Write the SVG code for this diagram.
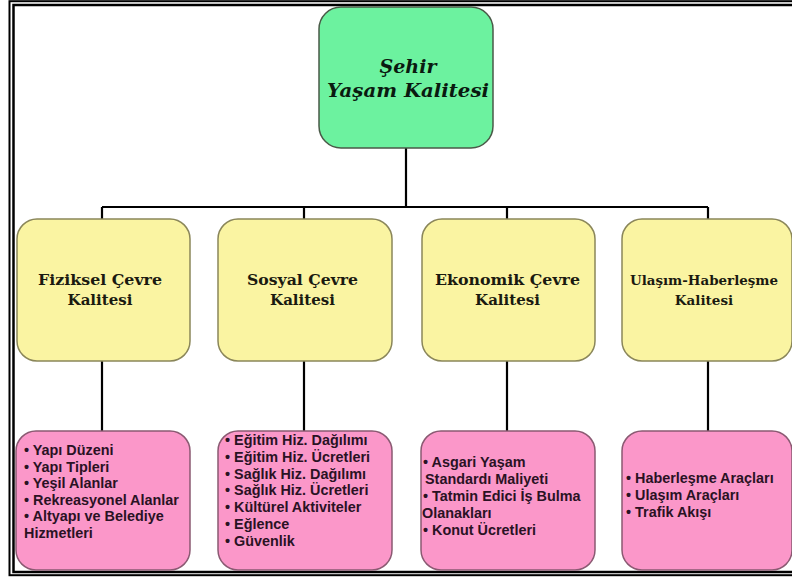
<svg xmlns="http://www.w3.org/2000/svg" width="792" height="578" viewBox="0 0 792 578">
<style>
.frame{fill:none;stroke:#000}
.top{fill:#6cf29f;stroke:#4a5a48;stroke-width:1.5}
.mid{fill:#faf4a2;stroke:#8a865a;stroke-width:1.5}
.low{fill:#fb97c9;stroke:#8a5a72;stroke-width:1.5}
.conn{stroke:#000;stroke-width:2.2;fill:none}
.ttl{font-family:"DejaVu Serif","Liberation Serif",serif;font-weight:bold;font-style:italic;font-size:19px;fill:#0a1a10;text-anchor:middle}
.hd{font-family:"DejaVu Serif","Liberation Serif",serif;font-weight:bold;font-size:15px;fill:#1a1a10;text-anchor:middle}
.it{font-family:"Liberation Sans",Arial,sans-serif;font-weight:bold;font-size:14.4px;fill:#2a1224}
</style>
<rect width="792" height="578" fill="#fff"/>
<rect class="frame" x="9.5" y="1.2" width="800" height="574" stroke-width="2"/>
<rect class="frame" x="13.5" y="5" width="800" height="567" stroke-width="2.5"/>
<g id="connectors">
<path class="conn" d="M406 148V207M102 207H708M102 207V219M304 207V219M507 207V219M708 207V219M102 361V431M304 361V431M507 361V431M708 361V431"/>
</g>
<g id="root">
<rect class="top" x="319" y="7" width="174" height="141" rx="22"/>
<text class="ttl" x="408" y="73">Şehir</text>
<text class="ttl" x="408" y="97" textLength="162" lengthAdjust="spacingAndGlyphs">Yaşam Kalitesi</text>
</g>
<g id="fiziksel">
<rect class="mid" x="17" y="219" width="173" height="142" rx="20"/>
<text class="hd" x="100" y="285" textLength="124" lengthAdjust="spacingAndGlyphs">Fiziksel Çevre</text>
<text class="hd" x="100" y="305">Kalitesi</text>
</g>
<g id="sosyal">
<rect class="mid" x="218" y="219" width="174" height="142" rx="20"/>
<text class="hd" x="302.5" y="285" textLength="111" lengthAdjust="spacingAndGlyphs">Sosyal Çevre</text>
<text class="hd" x="302.5" y="305">Kalitesi</text>
</g>
<g id="ekonomik">
<rect class="mid" x="422" y="219" width="173" height="142" rx="20"/>
<text class="hd" x="507.5" y="285" textLength="145" lengthAdjust="spacingAndGlyphs">Ekonomik Çevre</text>
<text class="hd" x="507.5" y="305">Kalitesi</text>
</g>
<g id="ulasim">
<rect class="mid" x="622" y="219" width="170" height="142" rx="20"/>
<text class="hd" x="704" y="285" textLength="148" lengthAdjust="spacingAndGlyphs" style="font-size:13.5px">Ulaşım-Haberleşme</text>
<text class="hd" x="704" y="305" style="font-size:13.5px">Kalitesi</text>
</g>
<g id="fiziksel-items">
<rect class="low" x="16" y="431" width="174" height="139" rx="20"/>
<text class="it" x="24" y="455">• Yapı Düzeni</text>
<text class="it" x="24" y="471.5">• Yapı Tipleri</text>
<text class="it" x="24" y="488">• Yeşil Alanlar</text>
<text class="it" x="24" y="504.5">• Rekreasyonel Alanlar</text>
<text class="it" x="24" y="521">• Altyapı ve Belediye</text>
<text class="it" x="24" y="538">Hizmetleri</text>
</g>
<g id="sosyal-items">
<rect class="low" x="218" y="431" width="174" height="139" rx="20"/>
<text class="it" x="225" y="445">• Eğitim Hiz. Dağılımı</text>
<text class="it" x="225" y="462">• Eğitim Hiz. Ücretleri</text>
<text class="it" x="225" y="478.5">• Sağlık Hiz. Dağılımı</text>
<text class="it" x="225" y="495">• Sağlık Hiz. Ücretleri</text>
<text class="it" x="225" y="512">• Kültürel Aktiviteler</text>
<text class="it" x="225" y="529">• Eğlence</text>
<text class="it" x="225" y="546">• Güvenlik</text>
</g>
<g id="ekonomik-items">
<rect class="low" x="421" y="431" width="174" height="139" rx="20"/>
<text class="it" x="423" y="467">• Asgari Yaşam</text>
<text class="it" x="425" y="484">Standardı Maliyeti</text>
<text class="it" x="423" y="501">• Tatmin Edici İş Bulma</text>
<text class="it" x="422" y="518">Olanakları</text>
<text class="it" x="423" y="535">• Konut Ücretleri</text>
</g>
<g id="ulasim-items">
<rect class="low" x="622" y="431" width="170" height="139" rx="20"/>
<text class="it" x="626" y="483">• Haberleşme Araçları</text>
<text class="it" x="626" y="500">• Ulaşım Araçları</text>
<text class="it" x="626" y="517">• Trafik Akışı</text>
</g>
</svg>
